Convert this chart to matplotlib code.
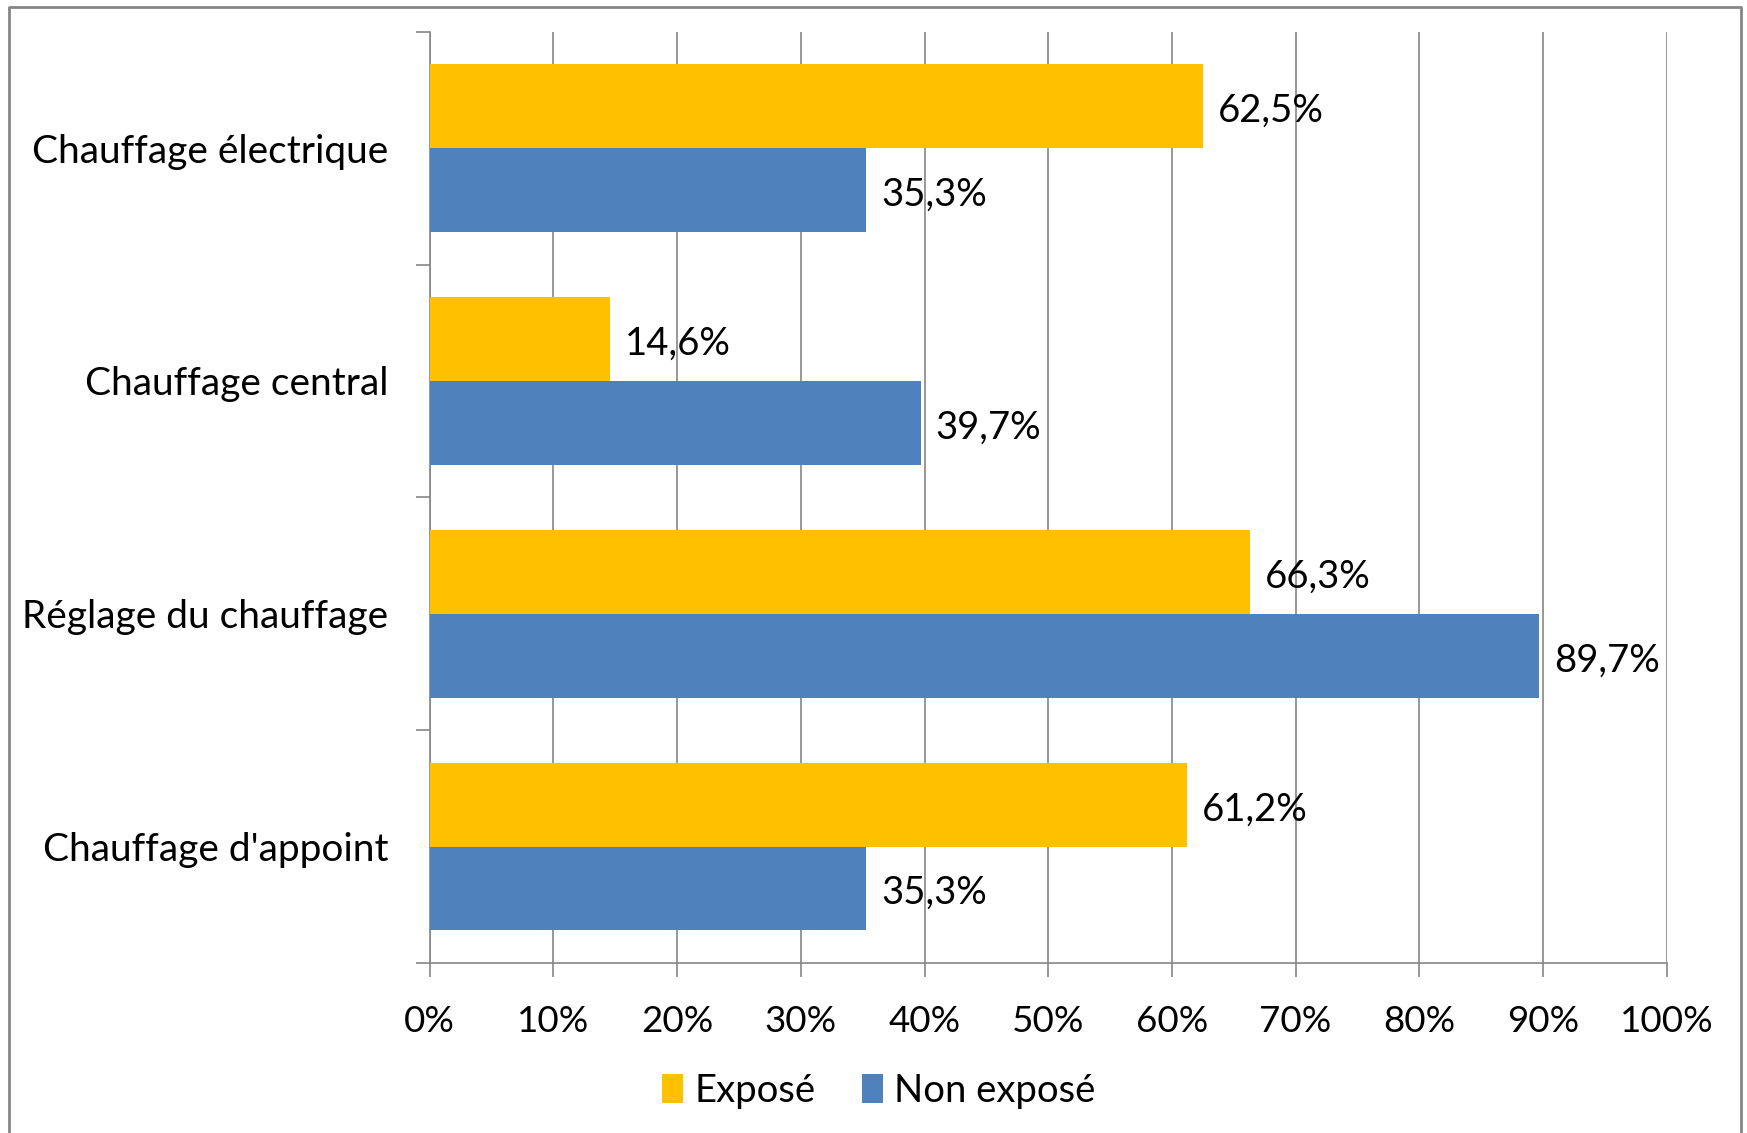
import matplotlib.pyplot as plt
import numpy as np
from matplotlib.lines import Line2D

categories = ["Chauffage électrique", "Chauffage central", "Réglage du chauffage", "Chauffage d'appoint"]
expose = [62.5, 14.6, 66.3, 61.2]
non_expose = [35.3, 39.7, 89.7, 35.3]
series_names = ["Exposé", "Non exposé"]
xticks = [0, 10, 20, 30, 40, 50, 60, 70, 80, 90, 100]

plt.rcParams['font.family'] = ['Lato', 'DejaVu Sans']

fig = plt.figure(figsize=(17.47, 11.33), dpi=100)
ax = fig.add_axes([0.246, 0.150, 0.708, 0.822])

y = np.arange(len(categories))[::-1]
h = 0.36
c_exp = '#FFC000'
c_non = '#4F81BD'
gris = '#868686'

b1 = ax.barh(y + h / 2, expose, h, color=c_exp, label=series_names[0], zorder=3)
b2 = ax.barh(y - h / 2, non_expose, h, color=c_non, label=series_names[1], zorder=3)

for bars, vals in [(b1, expose), (b2, non_expose)]:
    for b, v in zip(bars, vals):
        ax.text(v + 1.2, b.get_y() + b.get_height() / 2 - 0.02,
                f"{v:.1f}%".replace('.', ','), va='center', ha='left', fontsize=27.5)

ax.set_xlim(0, 100)
ax.set_ylim(-0.5, len(categories) - 0.5)
ax.set_xticks(xticks)
ax.set_xticklabels([f"{t}%" for t in xticks], fontsize=26.5)
ax.set_yticks(y)
ax.set_yticklabels(categories, fontsize=28)
ax.set_yticks(np.arange(len(categories) + 1) - 0.5, minor=True)
ax.tick_params(axis='y', which='major', length=0, pad=30)
ax.tick_params(axis='y', which='minor', length=10, color=gris, width=1.2)
ax.tick_params(axis='x', length=10, color=gris, width=1.2, pad=20, direction='out')
ax.xaxis.grid(True, color=gris, linewidth=1.2, zorder=0)

for s in ['top', 'right']:
    ax.spines[s].set_visible(False)
for s in ['left', 'bottom']:
    ax.spines[s].set_color(gris)
    ax.spines[s].set_linewidth(1.2)

fig.legend(handles=[b1, b2], labels=series_names, loc='center', bbox_to_anchor=(0.503, 0.037),
           ncol=2, frameon=False, fontsize=27.5, handlelength=0.55, handleheight=0.8,
           handletextpad=0.3, columnspacing=1.2)

# cadre du graphique (le bas est coupé dans l'image d'origine)
fig.add_artist(Line2D([0.005, 0.005, 0.9965, 0.9965], [0.0, 0.994, 0.994, 0.0],
                      transform=fig.transFigure, color=gris, linewidth=2))

fig.savefig('out.png', dpi=100)
